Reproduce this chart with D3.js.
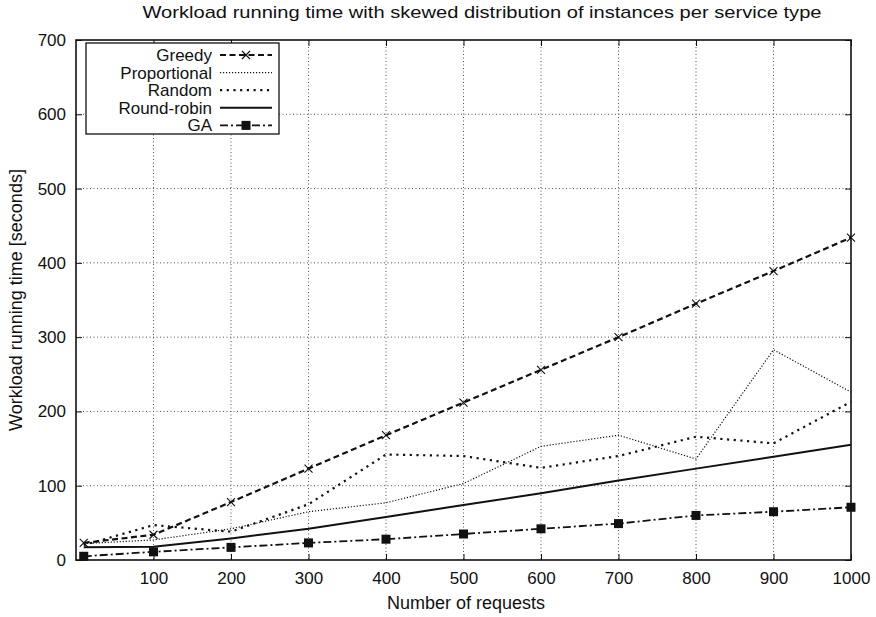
<!DOCTYPE html>
<html><head><meta charset="utf-8">
<script src="https://cdn.jsdelivr.net/npm/d3@7"></script>
<style>body{margin:0;background:#fff}text{font-family:"Liberation Sans",Arial,sans-serif;fill:#111}</style>
</head><body><svg id="c" width="876" height="617"></svg>
<script>
const xValues = [10,100,200,300,400,500,600,700,800,900,1000];
const greedy = [23,34,78,123,168,212,256,300,345,389,434];
const proportional = [22,27,42,65,77,103,153,168,136,283,226];
const random = [20,47,38,75,142,140,124,140,166,157,213];
const roundRobin = [17,18,29,42,58,74,90,107,123,139,155];
const ga = [5,11,17,23,28,35,42,49,60,65,71];
const xTicks = [100,200,300,400,500,600,700,800,900,1000];
const yTicks = [0,100,200,300,400,500,600,700];
const seriesNames = ["Greedy","Proportional","Random","Round-robin","GA"];

const svg = d3.select("#c");
const L=76,R=851,T=40,B=560;
const x = d3.scaleLinear().domain([0,1000]).range([L,R]);
const y = d3.scaleLinear().domain([0,700]).range([B,T]);

// grid
const g = svg.append("g");
g.selectAll(".gx").data(xTicks.slice(0,-1)).join("line")
 .attr("x1",d=>x(d)).attr("x2",d=>x(d)).attr("y1",T).attr("y2",B)
 .attr("stroke","#555").attr("stroke-width",1).attr("stroke-dasharray","1,2.5");
g.selectAll(".gy").data(yTicks.slice(1,-1)).join("line")
 .attr("y1",d=>y(d)).attr("y2",d=>y(d)).attr("x1",L).attr("x2",R)
 .attr("stroke","#555").attr("stroke-width",1).attr("stroke-dasharray","1,2.5");

const fmt = d3.format("d");
svg.append("g").attr("transform",`translate(0,${B})`).call(d3.axisBottom(x).tickValues(xTicks).tickFormat(fmt).tickSizeInner(-6).tickSizeOuter(0).tickPadding(12))
 .call(a=>{a.select(".domain").remove();a.selectAll("text").attr("font-size",17).attr("fill","#111");a.selectAll("line").attr("stroke","#111");});
svg.append("g").attr("transform",`translate(0,${T})`).call(d3.axisTop(x).tickValues(xTicks).tickSizeInner(-6).tickSizeOuter(0).tickFormat(""))
 .call(a=>{a.select(".domain").remove();a.selectAll("line").attr("stroke","#111");});
svg.append("g").attr("transform",`translate(${L},0)`).call(d3.axisLeft(y).tickValues(yTicks).tickFormat(fmt).tickSizeInner(-6).tickSizeOuter(0).tickPadding(10))
 .call(a=>{a.select(".domain").remove();a.selectAll("text").attr("font-size",17).attr("fill","#111");a.selectAll("line").attr("stroke","#111");});
svg.append("g").attr("transform",`translate(${R},0)`).call(d3.axisRight(y).tickValues(yTicks).tickSizeInner(-6).tickSizeOuter(0).tickFormat(""))
 .call(a=>{a.select(".domain").remove();a.selectAll("line").attr("stroke","#111");});

svg.append("rect").attr("x",L).attr("y",T).attr("width",R-L).attr("height",B-T)
 .attr("fill","none").attr("stroke","#111").attr("stroke-width",1.6);

const styles = {
 "Greedy":{data:greedy,w:2.2,dash:"6,3.5",marker:"x"},
 "Proportional":{data:proportional,w:1.2,dash:"1.2,1.8",marker:null},
 "Random":{data:random,w:2.2,dash:"2.2,4.5",marker:null},
 "Round-robin":{data:roundRobin,w:2,dash:null,marker:null},
 "GA":{data:ga,w:1.8,dash:"8,3,2,3",marker:"sq"}
};
const line = d3.line().x(d=>x(d[0])).y(d=>y(d[1]));
function drawMarker(sel,type,cx,cy){
 if(type==="x"){
  sel.append("path").attr("d",`M${cx-4},${cy-4}L${cx+4},${cy+4}M${cx-4},${cy+4}L${cx+4},${cy-4}`).attr("stroke","#111").attr("stroke-width",1.1);
 } else if(type==="sq"){
  sel.append("rect").attr("x",cx-4.5).attr("y",cy-4.5).attr("width",9).attr("height",9).attr("fill","#111");
 }
}
seriesNames.forEach(n=>{
 const s=styles[n];
 const pts=xValues.map((v,i)=>[v,s.data[i]]);
 svg.append("path").attr("d",line(pts)).attr("fill","none").attr("stroke","#111")
  .attr("stroke-width",s.w).attr("stroke-dasharray",s.dash);
 if(s.marker) pts.forEach(p=>drawMarker(svg,s.marker,x(p[0]),y(p[1])));
});

// legend
const lg = svg.append("g");
lg.append("rect").attr("x",86).attr("y",43).attr("width",193).attr("height",91).attr("fill","#fff").attr("stroke","#111").attr("stroke-width",1.3);
seriesNames.forEach((n,i)=>{
 const s=styles[n];
 const yy=55+i*17.6;
 lg.append("text").attr("x",212).attr("y",yy).attr("dy","0.35em").attr("text-anchor","end").attr("font-size",17).text(n);
 lg.append("line").attr("x1",220).attr("x2",272).attr("y1",yy).attr("y2",yy).attr("stroke","#111")
  .attr("stroke-width",s.w).attr("stroke-dasharray",s.dash);
 if(s.marker) drawMarker(lg,s.marker,246,yy);
});

svg.append("text").attr("x",482).attr("y",18).attr("text-anchor","middle").attr("font-size",17)
 .attr("textLength",679).attr("lengthAdjust","spacingAndGlyphs")
 .text("Workload running time with skewed distribution of instances per service type");
svg.append("text").attr("x",466).attr("y",609).attr("text-anchor","middle").attr("font-size",18).text("Number of requests");
svg.append("text").attr("transform",`translate(22,${(T+B)/2}) rotate(-90)`).attr("text-anchor","middle").attr("font-size",18).text("Workload running time [seconds]");
</script></body></html>
